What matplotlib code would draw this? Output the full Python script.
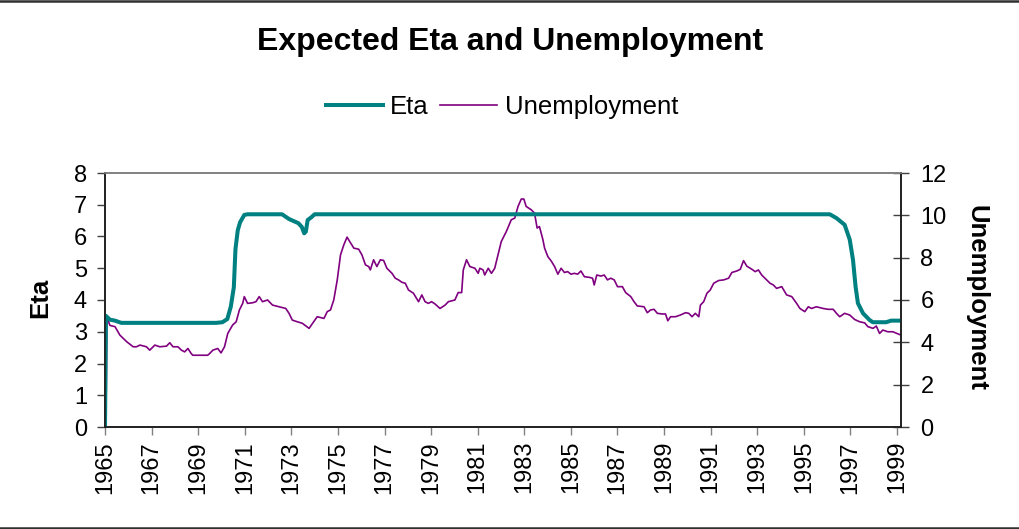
import matplotlib
matplotlib.use("Agg")
import matplotlib.pyplot as plt
from matplotlib.lines import Line2D

plt.rcParams['font.family'] = ['Liberation Sans', 'DejaVu Sans']

# ---- data ----
eta_years = [1965.0, 1965.04, 1965.21, 1965.43, 1965.7, 1969.77, 1970.04, 1970.25, 1970.4,
             1970.53, 1970.6, 1970.7, 1970.8, 1970.98, 1971.12, 1972.6, 1972.9, 1973.3,
             1973.45, 1973.55, 1973.62, 1973.7, 1973.85, 1974.0, 1996.11, 1996.4, 1996.75,
             1996.97, 1997.11, 1997.22, 1997.32, 1997.54, 1997.82, 1997.96, 1998.53,
             1998.75, 1999.17]
eta_values = [0.0, 3.5, 3.38, 3.35, 3.28, 3.28, 3.3, 3.4, 3.79,
              4.4, 5.6, 6.2, 6.45, 6.68, 6.7, 6.7, 6.55, 6.42,
              6.3, 6.1, 6.15, 6.52, 6.6, 6.7, 6.7, 6.58, 6.37,
              5.9, 5.26, 4.42, 3.9, 3.58, 3.37, 3.3, 3.3,
              3.35, 3.35]

unemp_years = [1965.04, 1965.08, 1965.21, 1965.43, 1965.64, 1965.93, 1966.21, 1966.35, 1966.50,
               1966.78, 1966.92, 1967.14, 1967.35, 1967.64, 1967.78, 1967.92, 1968.13, 1968.28,
               1968.42, 1968.56, 1968.70, 1968.77, 1969.41, 1969.49, 1969.63, 1969.84, 1969.98,
               1970.13, 1970.27, 1970.48, 1970.63, 1970.77, 1970.91, 1970.98, 1971.12, 1971.34,
               1971.48, 1971.62, 1971.76, 1971.98, 1972.19, 1972.48, 1972.76, 1972.90, 1973.04,
               1973.26, 1973.47, 1973.76, 1974.11, 1974.40, 1974.54, 1974.68, 1974.82, 1974.97,
               1975.11, 1975.25, 1975.39, 1975.68, 1975.89, 1976.03, 1976.18, 1976.32, 1976.39,
               1976.53, 1976.67, 1976.82, 1976.96, 1977.10, 1977.32, 1977.46, 1977.60, 1977.74,
               1977.89, 1978.03, 1978.24, 1978.46, 1978.60, 1978.74, 1978.88, 1979.02, 1979.17,
               1979.38, 1979.60, 1979.74, 1980.02, 1980.16, 1980.31, 1980.38, 1980.52, 1980.66,
               1980.88, 1981.02, 1981.09, 1981.23, 1981.30, 1981.45, 1981.59, 1981.73, 1981.87,
               1982.01, 1982.23, 1982.44, 1982.59, 1982.73, 1982.87, 1982.98, 1983.08, 1983.30,
               1983.44, 1983.55, 1983.65, 1983.80, 1983.87, 1984.01, 1984.15, 1984.30, 1984.44,
               1984.58, 1984.72, 1984.86, 1985.00, 1985.15, 1985.29, 1985.43, 1985.58, 1985.79,
               1985.93, 1986.00, 1986.11, 1986.29, 1986.43, 1986.57, 1986.71, 1986.86, 1987.00,
               1987.21, 1987.35, 1987.57, 1987.71, 1987.85, 1988.14, 1988.28, 1988.42, 1988.57,
               1988.71, 1988.92, 1989.06, 1989.16, 1989.28, 1989.49, 1989.70, 1989.92, 1990.06,
               1990.20, 1990.34, 1990.49, 1990.56, 1990.70, 1990.84, 1990.98, 1991.13, 1991.34,
               1991.56, 1991.77, 1991.91, 1992.12, 1992.27, 1992.41, 1992.55, 1992.77, 1992.91,
               1993.05, 1993.19, 1993.33, 1993.55, 1993.69, 1993.83, 1994.05, 1994.26, 1994.48,
               1994.69, 1994.83, 1995.04, 1995.19, 1995.33, 1995.54, 1995.83, 1996.04, 1996.26,
               1996.40, 1996.54, 1996.75, 1996.97, 1997.18, 1997.40, 1997.61, 1997.75, 1997.97,
               1998.11, 1998.25, 1998.39, 1998.60, 1998.82, 1999.17]
unemp_values = [0.0, 5.2, 4.8, 4.74, 4.34, 4.03, 3.79, 3.79, 3.87,
                3.79, 3.63, 3.87, 3.79, 3.82, 3.98, 3.79, 3.79, 3.63,
                3.55, 3.71, 3.47, 3.39, 3.39, 3.47, 3.63, 3.71, 3.5,
                3.79, 4.42, 4.82, 4.97, 5.53, 5.84, 6.16, 5.84, 5.87,
                5.92, 6.16, 5.92, 6.0, 5.76, 5.68, 5.6, 5.37, 5.05,
                4.97, 4.9, 4.66, 5.21, 5.13, 5.45, 5.53, 6.0, 6.95,
                8.13, 8.6, 8.97, 8.45, 8.4, 8.13, 7.66, 7.58, 7.42,
                7.9, 7.58, 7.9, 7.87, 7.5, 7.26, 7.03, 6.95, 6.84,
                6.79, 6.47, 6.32, 5.92, 6.24, 5.92, 5.84, 5.92, 5.81,
                5.6, 5.76, 5.92, 6.0, 6.35, 6.35, 7.42, 7.9, 7.58,
                7.5, 7.26, 7.5, 7.42, 7.18, 7.5, 7.26, 7.5, 8.13,
                8.76, 9.24, 9.79, 9.87, 10.42, 10.77, 10.77, 10.42, 10.26,
                10.1, 9.4, 9.47, 8.84, 8.45, 8.05, 7.85, 7.58, 7.22,
                7.5, 7.3, 7.34, 7.22, 7.26, 7.22, 7.37, 7.1, 7.07,
                7.03, 6.71, 7.18, 7.13, 7.18, 6.95, 7.03, 6.95, 6.63,
                6.63, 6.35, 6.16, 5.92, 5.72, 5.68, 5.4, 5.53, 5.56,
                5.37, 5.34, 5.34, 5.02, 5.21, 5.21, 5.29, 5.4, 5.37,
                5.21, 5.37, 5.21, 5.76, 5.92, 6.32, 6.47, 6.79, 6.92,
                6.95, 7.03, 7.3, 7.37, 7.45, 7.86, 7.6, 7.45, 7.34,
                7.42, 7.18, 7.03, 6.79, 6.71, 6.55, 6.63, 6.24, 6.16,
                5.84, 5.6, 5.45, 5.68, 5.6, 5.68, 5.6, 5.56, 5.56,
                5.37, 5.21, 5.37, 5.29, 5.08, 4.97, 4.92, 4.74, 4.66,
                4.77, 4.42, 4.58, 4.5, 4.5, 4.34]

year_ticks = list(range(1965, 2000, 2))
eta_ticks = [0, 1, 2, 3, 4, 5, 6, 7, 8]
unemp_ticks = [0, 2, 4, 6, 8, 10, 12]

TEAL = '#008080'
PURPLE = '#800080'

W, H = 1019, 529
fig = plt.figure(figsize=(W / 100, H / 100), dpi=100)
L, R, T, B = 105, 901, 173, 427
ax = fig.add_axes([L / W, 1 - B / H, (R - L) / W, (B - T) / H])
ax2 = ax.twinx()

ax.set_zorder(2)
ax.patch.set_visible(False)
ax2.set_zorder(1)

l1, = ax.plot(eta_years, eta_values, color=TEAL, lw=2.9, solid_joinstyle='round', label='Eta')
l2, = ax2.plot(unemp_years, unemp_values, color=PURPLE, lw=1.2, label='Unemployment')

ax.set_xlim(1965, 1999.17)
ax.set_ylim(0, 8)
ax2.set_ylim(0, 12)
ax.set_yticks(eta_ticks)
ax2.set_yticks(unemp_ticks)
ax.set_xticks(year_ticks)
ax.set_xticklabels([str(y) for y in year_ticks], rotation=90)

fs = 17
ax.tick_params(axis='y', direction='out', length=6, width=1, color='#404040', labelsize=fs, pad=7)
ax.tick_params(axis='x', direction='out', length=6, width=1, color='#808080', labelsize=fs, pad=4)
ax2.tick_params(axis='y', direction='inout', length=12, width=1, color='#404040', labelsize=fs, pad=8)

for a in (ax, ax2):
    for s in ('left', 'right', 'bottom'):
        a.spines[s].set_color('#202020')
        a.spines[s].set_linewidth(1.2)
    a.spines['top'].set_color('#808080')
    a.spines['top'].set_linewidth(1.2)

fig.text(40 / W, 1 - 298 / H, 'Eta', rotation=90, ha='center', va='center',
         fontsize=18.5, fontweight='bold')
fig.text(976 / W, 1 - 298 / H, 'Unemployment', rotation=-90, ha='center', va='center',
         fontsize=18.5, fontweight='bold')

fig.text(510 / W, 1 - 42 / H, 'Expected Eta and Unemployment', ha='center', va='center',
         fontsize=23, fontweight='bold')

fig.legend([l1, l2], ['Eta', 'Unemployment'], loc='center', ncol=2,
           bbox_to_anchor=(502 / W, 1 - 107 / H), frameon=False, fontsize=18.5,
           handlelength=2.2, handletextpad=0.3, columnspacing=0.45)

fig.add_artist(Line2D([0, 1], [1 - 1 / H, 1 - 1 / H], transform=fig.transFigure,
                      color='#303030', lw=1.8))
fig.add_artist(Line2D([0, 1], [1 - 527.5 / H, 1 - 527.5 / H], transform=fig.transFigure,
                      color='#303030', lw=1.8))

fig.savefig('out.png', dpi=100)
